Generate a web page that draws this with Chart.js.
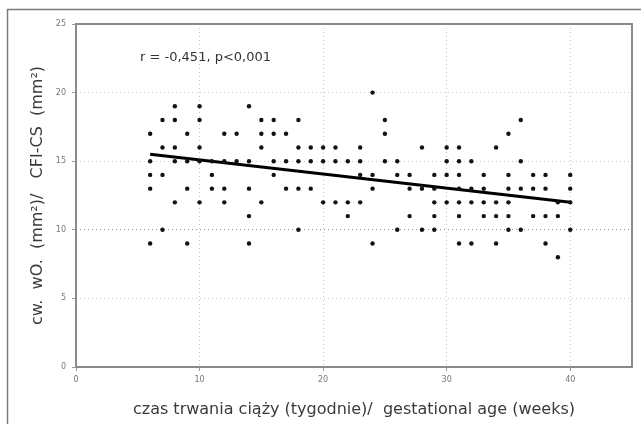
<!DOCTYPE html>
<html>
<head>
<meta charset="utf-8">
<script src="https://cdn.jsdelivr.net/npm/chart.js@4"></script>
<style>
  html, body { margin: 0; padding: 0; background: #fff; }
  #wrap { width: 641px; height: 424px; }
</style>
</head>
<body>
<div id="wrap"><canvas id="myChart" width="641" height="424"></canvas></div>
<script>
const rowValues = [20, 19, 18, 17, 16, 15, 14, 13, 12, 11, 10, 9, 8]
const rowWeeks = [
  [24],
  [8, 10, 14],
  [7, 8, 10, 15, 16, 18, 25, 36],
  [6, 9, 12, 13, 15, 16, 17, 25, 35],
  [7, 8, 10, 15, 18, 19, 20, 21, 23, 28, 30, 31, 34],
  [6, 8, 9, 10, 11, 12, 13, 14, 16, 17, 18, 19, 20, 21, 22, 23, 25, 26, 30, 31, 32, 36],
  [6, 7, 11, 16, 23, 24, 26, 27, 29, 30, 31, 33, 35, 37, 38, 40],
  [6, 9, 11, 12, 14, 17, 18, 19, 24, 27, 28, 29, 31, 32, 33, 35, 36, 37, 38, 40],
  [8, 10, 12, 15, 20, 21, 22, 23, 29, 30, 31, 32, 33, 34, 35, 39, 40],
  [14, 22, 27, 29, 31, 33, 34, 35, 37, 38, 39],
  [7, 18, 26, 28, 29, 35, 36, 40],
  [6, 9, 14, 24, 31, 32, 34, 38],
  [39]
]

// regression line end points
const fitWeeks = [6, 40]
const fitValues = [15.5, 12.0]

const xTicks = [0, 10, 20, 30, 40]
const yTicks = [0, 5, 10, 15, 20, 25]
const statsText = 'r = -0,451, p<0,001'

const fontFamily = '"DejaVu Sans", Verdana, sans-serif'

let points = []
for (let i = 0; i < rowValues.length; i++) {
  for (let j = 0; j < rowWeeks[i].length; j++) {
    points.push({ x: rowWeeks[i][j], y: rowValues[i] })
  }
}

const fitLine = fitWeeks.map((w, i) => ({ x: w, y: fitValues[i] }))

// frame round the picture, box round the plot and the r / p text
const framePlugin = {
  id: 'frame',
  beforeDraw(chart) {
    const c = chart.ctx
    c.save()
    c.strokeStyle = '#7a7a7a'
    c.lineWidth = 1.5
    c.strokeRect(7.5, 9.5, 700, 500)
    c.restore()
  },
  afterDraw(chart) {
    const a = chart.chartArea
    const c = chart.ctx
    c.save()
    c.strokeStyle = '#8a8a8a'
    c.lineWidth = 2
    c.strokeRect(a.left, a.top, a.right - a.left, a.bottom - a.top)
    c.fillStyle = '#333'
    c.font = '13px ' + fontFamily
    c.textBaseline = 'middle'
    c.fillText(statsText, 140, 58)
    c.restore()
  }
}

const ctx = document.getElementById('myChart').getContext('2d')
const myChart = new Chart(ctx, {
  type: 'scatter',
  data: {
    datasets: [
      {
        label: 'data',
        data: points,
        pointRadius: 2.2,
        pointHoverRadius: 2.2,
        pointBackgroundColor: '#111',
        pointBorderWidth: 0,
        showLine: false
      },
      {
        label: 'fit',
        type: 'line',
        data: fitLine,
        borderColor: '#000',
        borderWidth: 3,
        pointRadius: 0,
        fill: false,
        tension: 0
      }
    ]
  },
  options: {
    responsive: false,
    animation: false,
    devicePixelRatio: 1,
    layout: { padding: { left: 0, top: 24, right: 9, bottom: 0 } },
    plugins: {
      legend: { display: false },
      tooltip: { enabled: false }
    },
    scales: {
      x: {
        type: 'linear',
        min: 0,
        max: 45,
        afterBuildTicks: (s) => { s.ticks = xTicks.map(v => ({ value: v })) },
        afterFit: (s) => { s.height = 57 },
        grid: {
          color: '#c4c4c4',
          tickColor: '#999',
          tickLength: 4,
          lineWidth: 1
        },
        border: { display: false, dash: [1, 3] },
        ticks: {
          color: '#777',
          padding: 4,
          font: { family: fontFamily, size: 8 }
        },
        title: {
          display: true,
          text: 'czas trwania ciąży (tygodnie)/  gestational age (weeks)',
          color: '#3a3a3a',
          padding: { top: 0, bottom: 5 },
          font: { family: fontFamily, size: 16 }
        }
      },
      y: {
        type: 'linear',
        min: 0,
        max: 25,
        afterBuildTicks: (s) => { s.ticks = yTicks.map(v => ({ value: v })) },
        afterFit: (s) => { s.width = 76 },
        grid: {
          color: (c) => c.tick && c.tick.value === 10 ? '#8c8c8c' : '#cfcfcf',
          tickColor: '#999',
          tickLength: 4,
          lineWidth: 1
        },
        border: { display: false, dash: [1, 3] },
        ticks: {
          color: '#777',
          padding: 6,
          font: { family: fontFamily, size: 8 }
        },
        title: {
          display: true,
          text: 'cw.  wO.  (mm²)/   CFI-CS  (mm²)',
          color: '#3a3a3a',
          padding: { top: 28, bottom: 0 },
          font: { family: fontFamily, size: 16 }
        }
      }
    }
  },
  plugins: [framePlugin]
})
</script>
</body>
</html>
